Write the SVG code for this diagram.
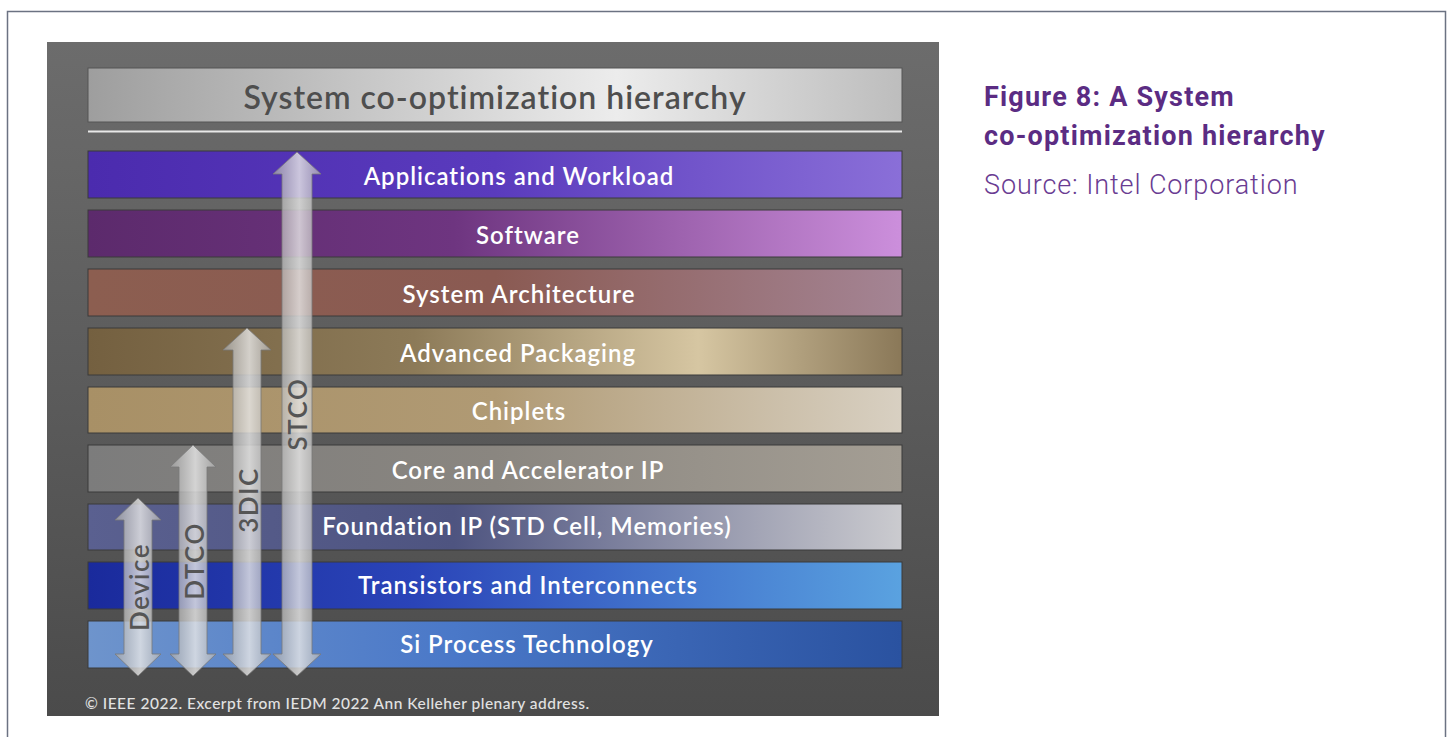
<svg xmlns="http://www.w3.org/2000/svg" width="1448" height="737" viewBox="0 0 1448 737">
<defs>
<style>
.band-label{font-family:"Lato","Liberation Sans",sans-serif;font-size:24px;font-weight:600;letter-spacing:1px;fill:#ffffff;text-anchor:middle;dominant-baseline:central}
.arrow-label{font-family:"Lato","Liberation Sans",sans-serif;font-size:26px;font-weight:600;letter-spacing:1.5px;fill:#555555;text-anchor:middle;dominant-baseline:central}
.arrow{stroke:#7a7a7a;stroke-width:0.8;fill:url(#arrowGrad)}
.band{stroke:#3a3a3a;stroke-width:1}
.cap-b{font-family:"Roboto","Liberation Sans",sans-serif;font-size:27px;font-weight:700;letter-spacing:1.2px;fill:#5b2c83}
.cap-n{font-family:"Roboto","Liberation Sans",sans-serif;font-size:27px;font-weight:300;letter-spacing:0.9px;fill:#6a3c92}
</style>
<linearGradient id="panelGrad" x1="0" y1="0" x2="0" y2="1">
<stop offset="0" stop-color="#6c6c6c"/><stop offset="1" stop-color="#4b4b4b"/>
</linearGradient>
<linearGradient id="titleGrad" x1="0" y1="0" x2="1" y2="0">
<stop offset="0" stop-color="#9e9e9e"/><stop offset="0.65" stop-color="#ececec"/><stop offset="1" stop-color="#bdbdbd"/>
</linearGradient>
<linearGradient id="g1" x1="0" y1="0" x2="1" y2="0"><stop offset="0" stop-color="#4b2bae"/><stop offset="0.5" stop-color="#5a3bbd"/><stop offset="1" stop-color="#8a6fd8"/></linearGradient>
<linearGradient id="g2" x1="0" y1="0" x2="1" y2="0"><stop offset="0" stop-color="#5c2a6c"/><stop offset="0.45" stop-color="#6e3580"/><stop offset="1" stop-color="#cc8fdc"/></linearGradient>
<linearGradient id="g3" x1="0" y1="0" x2="1" y2="0"><stop offset="0" stop-color="#8c5e50"/><stop offset="0.5" stop-color="#8a5a52"/><stop offset="1" stop-color="#a48494"/></linearGradient>
<linearGradient id="g4" x1="0" y1="0" x2="1" y2="0"><stop offset="0" stop-color="#746040"/><stop offset="0.4" stop-color="#8c7a58"/><stop offset="0.75" stop-color="#d6c6a2"/><stop offset="1" stop-color="#8a7858"/></linearGradient>
<linearGradient id="g5" x1="0" y1="0" x2="1" y2="0"><stop offset="0" stop-color="#a89066"/><stop offset="0.5" stop-color="#b09a74"/><stop offset="1" stop-color="#d8d0c2"/></linearGradient>
<linearGradient id="g6" x1="0" y1="0" x2="1" y2="0"><stop offset="0" stop-color="#7c7c7c"/><stop offset="0.5" stop-color="#8a8680"/><stop offset="1" stop-color="#a49e94"/></linearGradient>
<linearGradient id="g7" x1="0" y1="0" x2="1" y2="0"><stop offset="0" stop-color="#5a6090"/><stop offset="0.45" stop-color="#4e5480"/><stop offset="1" stop-color="#cbcbcf"/></linearGradient>
<linearGradient id="g8" x1="0" y1="0" x2="1" y2="0"><stop offset="0" stop-color="#1a2a9c"/><stop offset="0.4" stop-color="#2a44b8"/><stop offset="1" stop-color="#5aa2e0"/></linearGradient>
<linearGradient id="g9" x1="0" y1="0" x2="1" y2="0"><stop offset="0" stop-color="#6e94cc"/><stop offset="0.45" stop-color="#4a78c8"/><stop offset="1" stop-color="#2a52a0"/></linearGradient>
<linearGradient id="arrowGrad" x1="0" y1="0" x2="1" y2="0">
<stop offset="0" stop-color="#a8a8a8" stop-opacity="0.7"/><stop offset="0.55" stop-color="#e6e6e6" stop-opacity="0.82"/><stop offset="1" stop-color="#b4b4b4" stop-opacity="0.7"/>
</linearGradient>
</defs>

<rect x="7.5" y="11.5" width="1438" height="740" fill="#ffffff" stroke="#6b7282" stroke-width="1.5"/>

<g id="panel">
<rect x="47" y="42" width="892" height="674" fill="url(#panelGrad)"/>
</g>

<g id="title">
<rect x="88" y="68" width="814" height="54" fill="url(#titleGrad)" stroke="#555" stroke-width="1"/>
<text x="495" y="96" style="font-family:'Lato','Liberation Sans',sans-serif;font-size:32px;font-weight:600;letter-spacing:1px;fill:#4e4e4e;text-anchor:middle;dominant-baseline:central">System co-optimization hierarchy</text>
<line x1="88" y1="131.5" x2="902" y2="131.5" stroke="#e8e8e8" stroke-width="2"/>
</g>

<g id="band-applications"><rect class="band" x="88" y="151" width="814" height="47" fill="url(#g1)"/><text class="band-label" x="519" y="175">Applications and Workload</text></g>
<g id="band-software"><rect class="band" x="88" y="210" width="814" height="47" fill="url(#g2)"/><text class="band-label" x="528" y="234">Software</text></g>
<g id="band-sysarch"><rect class="band" x="88" y="269" width="814" height="47" fill="url(#g3)"/><text class="band-label" x="519" y="293">System Architecture</text></g>
<g id="band-packaging"><rect class="band" x="88" y="328" width="814" height="47" fill="url(#g4)"/><text class="band-label" x="518" y="352">Advanced Packaging</text></g>
<g id="band-chiplets"><rect class="band" x="88" y="387" width="814" height="46" fill="url(#g5)"/><text class="band-label" x="519" y="410">Chiplets</text></g>
<g id="band-core"><rect class="band" x="88" y="445" width="814" height="47" fill="url(#g6)"/><text class="band-label" x="528" y="469">Core and Accelerator IP</text></g>
<g id="band-foundation"><rect class="band" x="88" y="504" width="814" height="46" fill="url(#g7)"/><text class="band-label" x="527" y="525">Foundation IP (STD Cell, Memories)</text></g>
<g id="band-transistors"><rect class="band" x="88" y="562" width="814" height="47" fill="url(#g8)"/><text class="band-label" x="528" y="584">Transistors and Interconnects</text></g>
<g id="band-si"><rect class="band" x="88" y="621" width="814" height="47" fill="url(#g9)"/><text class="band-label" x="527" y="643">Si Process Technology</text></g>

<g id="connectors">
<path class="arrow" d="M297,152 L321,174 L312,174 L312,654 L321,654 L297,676 L273,654 L282,654 L282,174 L273,174 Z"/>
<path class="arrow" d="M247,328 L271,350 L261,350 L261,654 L271,654 L247,676 L223,654 L233,654 L233,350 L223,350 Z"/>
<path class="arrow" d="M193,445 L216,467 L207,467 L207,654 L216,654 L193,676 L170,654 L179,654 L179,467 L170,467 Z"/>
<path class="arrow" d="M138,498 L161,520 L152,520 L152,654 L161,654 L138,676 L115,654 L124,654 L124,520 L115,520 Z"/>
</g>

<g id="arrow-labels">
<text class="arrow-label" transform="translate(297,414) rotate(-90)">STCO</text>
<text class="arrow-label" transform="translate(248,500) rotate(-90)">3DIC</text>
<text class="arrow-label" transform="translate(194,561) rotate(-90)">DTCO</text>
<text class="arrow-label" transform="translate(139,587) rotate(-90)">Device</text>
</g>

<g id="copyright">
<text x="85" y="703" style="font-family:'Lato','Liberation Sans',sans-serif;font-size:15.5px;font-weight:500;letter-spacing:0.5px;fill:#e2e2e2;dominant-baseline:central">© IEEE 2022. Excerpt from IEDM 2022 Ann Kelleher plenary address.</text>
</g>

<g id="caption">
<text class="cap-b" x="984" y="106">Figure 8: A System</text>
<text class="cap-b" x="984" y="145">co-optimization hierarchy</text>
<text class="cap-n" x="984" y="194">Source: Intel Corporation</text>
</g>
</svg>
